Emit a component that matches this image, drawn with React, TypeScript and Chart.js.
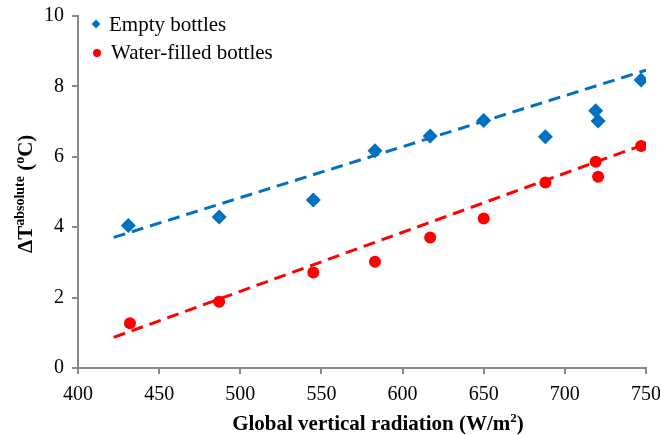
import React, { useEffect, useRef } from "react";
import { Chart, registerables } from "chart.js";

Chart.register(...registerables);

const emptyX = [431, 487, 545, 583, 617, 650, 688, 719, 720.5, 747];
const emptyY = [4.05, 4.29, 4.77, 6.17, 6.59, 7.03, 6.57, 7.31, 7.02, 8.18];
const waterX = [432, 487, 545, 583, 617, 650, 688, 719, 720.5, 747];
const waterY = [1.27, 1.88, 2.71, 3.02, 3.71, 4.25, 5.27, 5.86, 5.43, 6.31];
const trendX = [422, 750];
const emptyTrendY = [3.71, 8.46];
const waterTrendY = [0.87, 6.37];
const xTicks = [400, 450, 500, 550, 600, 650, 700, 750];
const yTicks = [0, 2, 4, 6, 8, 10];

const seriesNames = ["Empty bottles", "Water-filled bottles"];
const BLUE = "#0070C0";
const RED = "#FF0000";
const AXIS = "#898989";
const SERIF = "'Liberation Serif', 'Times New Roman', serif";

const zip = (xs: number[], ys: number[]) => xs.map((x, i) => ({ x, y: ys[i] }));

const decorPlugin = {
  id: "decor",
  afterDraw(chart: any) {
    const ctx = chart.ctx as CanvasRenderingContext2D;
    ctx.save();
    ctx.fillStyle = "#000";
    // Legend
    ctx.textBaseline = "middle";
    ctx.textAlign = "left";
    ctx.font = `21px ${SERIF}`;
    ctx.fillStyle = BLUE;
    ctx.beginPath();
    ctx.moveTo(96, 19.5);
    ctx.lineTo(100.5, 24);
    ctx.lineTo(96, 28.5);
    ctx.lineTo(91.5, 24);
    ctx.closePath();
    ctx.fill();
    ctx.fillStyle = RED;
    ctx.beginPath();
    ctx.arc(97, 53, 4, 0, Math.PI * 2);
    ctx.fill();
    ctx.fillStyle = "#000";
    ctx.fillText(seriesNames[0], 109, 25);
    ctx.fillText(seriesNames[1], 111, 53);

    // X title
    const bigB = `bold 21px ${SERIF}`;
    const smallB = `bold 13px ${SERIF}`;
    ctx.textBaseline = "alphabetic";
    const p1 = "Global vertical radiation (W/m";
    const p2 = "2";
    const p3 = ")";
    ctx.font = bigB;
    const w1 = ctx.measureText(p1).width;
    const w3 = ctx.measureText(p3).width;
    ctx.font = smallB;
    const w2 = ctx.measureText(p2).width;
    const total = w1 + w2 + w3;
    const x0 = 378 - total / 2;
    const by = 430;
    ctx.font = bigB;
    ctx.fillText(p1, x0, by);
    ctx.font = smallB;
    ctx.fillText(p2, x0 + w1, by - 8);
    ctx.font = bigB;
    ctx.fillText(p3, x0 + w1 + w2, by);

    // Y title
    ctx.translate(32, 253);
    ctx.rotate(-Math.PI / 2);
    const parts: [string, boolean][] = [
      ["ΔT", false],
      ["absolute", true],
      [" (", false],
      ["o", true],
      ["C)", false],
    ];
    let cx = 0;
    for (const [t, sup] of parts) {
      ctx.font = sup ? `bold 14px ${SERIF}` : bigB;
      ctx.fillText(t, cx, sup ? -8 : 0);
      cx += ctx.measureText(t).width;
    }
    ctx.restore();
  },
};

export default function App() {
  const ref = useRef<HTMLCanvasElement | null>(null);
  useEffect(() => {
    if (!ref.current) return;
    const chart = new Chart(ref.current, {
      type: "scatter",
      data: {
        datasets: [
          {
            label: seriesNames[0],
            data: zip(emptyX, emptyY),
            pointStyle: "rectRot",
            pointRadius: 7.5,
            pointBackgroundColor: BLUE,
            pointBorderColor: BLUE,
            pointBorderWidth: 0,
          },
          {
            label: seriesNames[1],
            data: zip(waterX, waterY),
            pointStyle: "circle",
            pointRadius: 6,
            pointBackgroundColor: RED,
            pointBorderColor: RED,
            pointBorderWidth: 0,
          },
          {
            label: "trend1",
            data: zip(trendX, emptyTrendY),
            showLine: true,
            borderColor: BLUE,
            borderWidth: 3,
            borderDash: [12, 7],
            pointRadius: 0,
          },
          {
            label: "trend2",
            data: zip(trendX, waterTrendY),
            showLine: true,
            borderColor: RED,
            borderWidth: 3,
            borderDash: [12, 7],
            pointRadius: 0,
          },
        ],
      } as any,
      options: {
        animation: false,
        responsive: false,
        maintainAspectRatio: false,
        layout: { padding: { left: 0, top: 16, right: 14, bottom: 0 } },
        plugins: { legend: { display: false }, tooltip: { enabled: false } },
        scales: {
          x: {
            type: "linear",
            min: 400,
            max: 750,
            afterBuildTicks: (axis: any) => {
              axis.ticks = xTicks.map((v) => ({ value: v }));
            },
            afterFit: (axis: any) => {
              axis.height = 67;
              axis.paddingLeft = 0;
              axis.paddingRight = 0;
            },
            grid: {
              drawOnChartArea: false,
              drawTicks: true,
              tickLength: 6,
              color: AXIS,
              lineWidth: 2,
            },
            border: { color: AXIS, width: 2 },
            ticks: {
              color: "#000",
              font: { family: SERIF, size: 20 },
              padding: 9,
              maxRotation: 0,
            },
          },
          y: {
            type: "linear",
            min: 0,
            max: 10,
            afterBuildTicks: (axis: any) => {
              axis.ticks = yTicks.map((v) => ({ value: v }));
            },
            afterFit: (axis: any) => {
              axis.width = 78;
              axis.paddingTop = 0;
              axis.paddingBottom = 0;
            },
            grid: {
              drawOnChartArea: false,
              drawTicks: true,
              tickLength: 6,
              color: AXIS,
              lineWidth: 2,
            },
            border: { color: AXIS, width: 2 },
            ticks: {
              color: "#000",
              font: { family: SERIF, size: 20 },
              padding: 8,
            },
          },
        },
      } as any,
      plugins: [decorPlugin],
    });
    return () => chart.destroy();
  }, []);
  return (
    <div style={{ position: "fixed", left: 0, top: 0, width: 660, height: 435, background: "#fff" }}>
      <canvas ref={ref} width={660} height={435} style={{ width: 660, height: 435 }} />
    </div>
  );
}
